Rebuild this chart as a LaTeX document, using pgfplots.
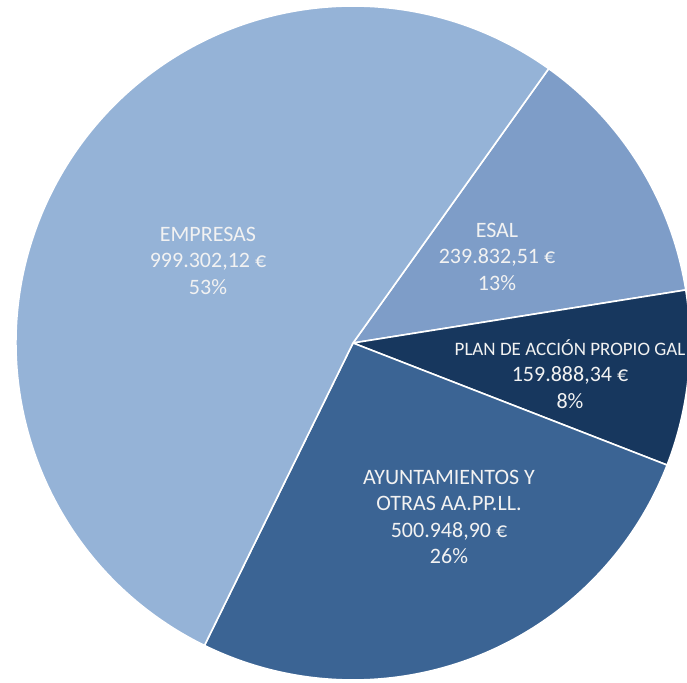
\documentclass[border=0pt]{standalone}
\usepackage{pgfplots}
\usepackage{pgfplotstable}
\pgfplotsset{compat=1.18}
\usepackage{fontspec}
\setmainfont{Carlito}

\definecolor{cEmp}{RGB}{149,179,215}
\definecolor{cEsal}{RGB}{126,157,200}
\definecolor{cPlan}{RGB}{23,55,94}
\definecolor{cAyu}{RGB}{59,100,148}
\definecolor{txt}{RGB}{242,242,242}

\pgfplotstableread{
name value
EMPRESAS 999302.12
ESAL 239832.51
PLAN 159888.34
AYUNT 500948.90
}\piedata

\newcommand\getval[2]{\pgfplotstablegetelem{#1}{value}\of\piedata\edef#2{\pgfplotsretval}}

\begin{document}
\begin{tikzpicture}
\getval{0}\vEmp
\getval{1}\vEsal
\getval{2}\vPlan
\getval{3}\vAyu
\edef\tot{\fpeval{\vEmp+\vEsal+\vPlan+\vAyu}}
\edef\aS{54.5}
\edef\aEsal{\fpeval{\aS-360*\vEsal/\tot}}
\edef\aPlan{\fpeval{\aEsal-360*\vPlan/\tot}}
\edef\aAyu{\fpeval{\aPlan-360*\vAyu/\tot}}
\edef\aEmp{\fpeval{\aAyu-360*\vEmp/\tot}}
\useasboundingbox (0,0) rectangle (687pt,682pt);
\begin{axis}[
  at={(0,0)}, anchor=south west,
  scale only axis, width=687pt, height=682pt,
  xmin=0, xmax=687, ymin=0, ymax=682,
  hide axis, clip=true,
]
\def\C{(axis cs:353,339)}
\filldraw[fill=cEsal, draw=white, line width=1.6pt, line join=round] \C -- +(\aS:337pt) arc[start angle=\aS, end angle=\aEsal, radius=337pt] -- cycle;
\filldraw[fill=cPlan, draw=white, line width=1.6pt, line join=round] \C -- +(\aEsal:337pt) arc[start angle=\aEsal, end angle=\aPlan, radius=337pt] -- cycle;
\filldraw[fill=cAyu, draw=white, line width=1.6pt, line join=round] \C -- +(\aPlan:337pt) arc[start angle=\aPlan, end angle=\aAyu, radius=337pt] -- cycle;
\filldraw[fill=cEmp, draw=white, line width=1.6pt, line join=round] \C -- +(\aAyu:337pt) arc[start angle=\aAyu, end angle=\aEmp, radius=337pt] -- cycle;
\begin{scope}[every node/.style={text=txt, align=center, font=\fontsize{22}{26.5}\selectfont}]
\node at (axis cs:208,421.5) {EMPRESAS\\999.302,12 €\\53\%};
\node at (axis cs:497,425.5) {ESAL\\239.832,51 €\\13\%};
\node at (axis cs:570,308) {{\fontsize{19}{26.5}\selectfont PLAN DE ACCIÓN PROPIO GAL}\\159.888,34 €\\8\%};
\node at (axis cs:449,165) {AYUNTAMIENTOS Y\\OTRAS AA.PP.LL.\\500.948,90 €\\26\%};
\end{scope}
\end{axis}
\end{tikzpicture}
\end{document}
